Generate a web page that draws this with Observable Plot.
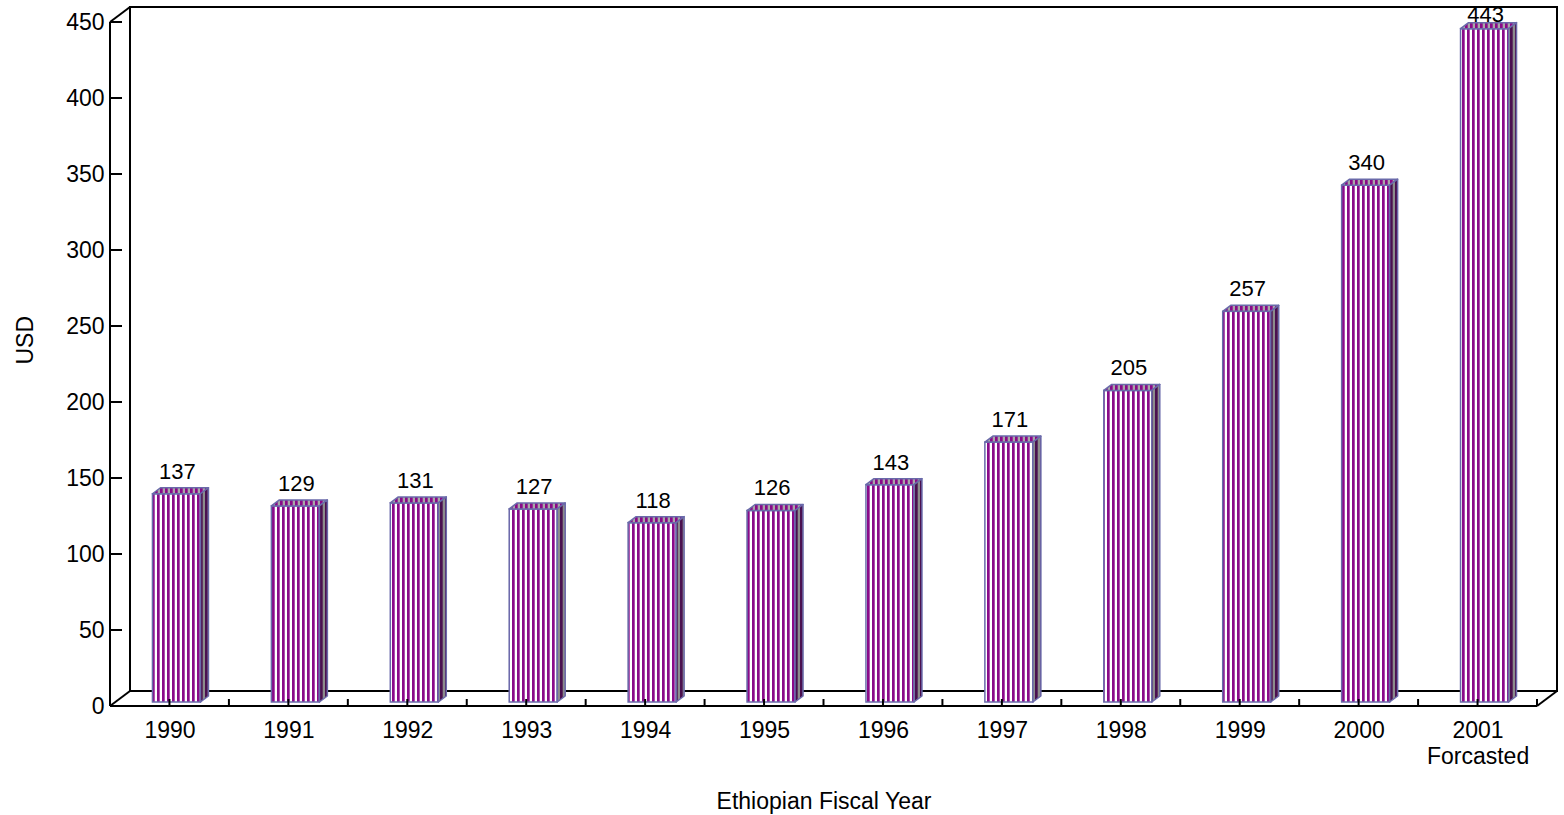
<!DOCTYPE html>
<html>
<head>
<meta charset="utf-8">
<script src="https://cdn.jsdelivr.net/npm/d3@7"></script>
<script src="https://cdn.jsdelivr.net/npm/@observablehq/plot@0.6"></script>
<style>
  html, body { margin: 0; padding: 0; background: #fff; }
</style>
</head>
<body>
<div id="chart"></div>
<script>
const years = ["1990","1991","1992","1993","1994","1995","1996","1997","1998","1999","2000","2001"];
const values = [137, 129, 131, 127, 118, 126, 143, 171, 205, 257, 340, 443];
const yTicks = [0, 50, 100, 150, 200, 250, 300, 350, 400, 450];
const xTickLabels = ["1990","1991","1992","1993","1994","1995","1996","1997","1998","1999","2000","2001\nForcasted"];
const yTitle = "USD";
const xTitle = "Ethiopian Fiscal Year";

const data = years.map((year, i) => ({year, value: values[i], label: xTickLabels[i]}));

const W = 1564, H = 815;
const M = {left: 110, right: 27, top: 22, bottom: 109};
const DEPTH = {dx: 20, dy: -15};       // wall depth
const BAR = {dx: 7, dy: -4, w: 48, ddx: 8, ddy: -6}; // bar placement and thickness
const OUTLINE = "#6a6aaa";
const FONT = "'Liberation Sans', Arial, Helvetica, sans-serif";
const FS = 23;

function bw(scales, dims) {
  return scales.x.bandwidth ? scales.x.bandwidth() : (dims.width - dims.marginLeft - dims.marginRight) / years.length;
}

// 3D frame: back wall, floor, front axis line, ticks
function frameMark(index, scales, values_, dims) {
  const g = d3.create("svg:g").attr("fill", "none").attr("stroke", "black").attr("stroke-width", 2);
  const x0 = dims.marginLeft, x1 = dims.width - dims.marginRight;
  const yT = scales.y(yTicks[yTicks.length - 1]), yB = scales.y(0);
  const line = (a, b, c, d) => g.append("line").attr("x1", a).attr("y1", b).attr("x2", c).attr("y2", d);
  g.append("rect").attr("x", x0 + DEPTH.dx).attr("y", yT + DEPTH.dy)
    .attr("width", x1 - x0).attr("height", yB - yT);
  line(x0, yT, x0 + DEPTH.dx, yT + DEPTH.dy);
  line(x0, yB, x0 + DEPTH.dx, yB + DEPTH.dy);
  line(x1, yB, x1 + DEPTH.dx, yB + DEPTH.dy);
  line(x0, yT, x0, yB);
  line(x0, yB, x1, yB);
  for (const t of yTicks) line(x0, scales.y(t), x0 + 12, scales.y(t));
  return g.node();
}

function xTickMark(index, scales, values_, dims) {
  const g = d3.create("svg:g").attr("stroke", "black").attr("stroke-width", 2);
  const b = bw(scales, dims);
  const yB = scales.y(0);
  const xs = [];
  years.forEach(y => { xs.push(scales.x(y)); xs.push(scales.x(y) + b / 2); });
  xs.push(scales.x(years[years.length - 1]) + b);
  for (const x of xs) g.append("line").attr("x1", x).attr("x2", x).attr("y1", yB - 7).attr("y2", yB);
  return g.node();
}

// top and side faces of the bars, plus value labels
function barFaces(index, scales, values_, dims) {
  const g = d3.create("svg:g");
  const b = bw(scales, dims);
  const yT = scales.y(yTicks[yTicks.length - 1]);
  for (const d of data) {
    const xl = scales.x(d.year) + (b - BAR.w) / 2 + BAR.dx;
    const xr = xl + BAR.w;
    const yt = scales.y(d.value) + BAR.dy;
    const yb = scales.y(0) + BAR.dy;
    g.append("polygon")
      .attr("points", [[xl, yt], [xr, yt], [xr + BAR.ddx, yt + BAR.ddy], [xl + BAR.ddx, yt + BAR.ddy]].join(" "))
      .attr("fill", "url(#topStripes)").attr("stroke", OUTLINE).attr("stroke-width", 1.5).attr("stroke-linejoin", "round");
    g.append("polygon")
      .attr("points", [[xr, yt], [xr + BAR.ddx, yt + BAR.ddy], [xr + BAR.ddx, yb + BAR.ddy], [xr, yb]].join(" "))
      .attr("fill", "url(#sideStripes)").attr("stroke", OUTLINE).attr("stroke-width", 1.5).attr("stroke-linejoin", "round");
    g.append("text")
      .attr("x", (xl + xr) / 2 + 1)
      .attr("y", Math.max(scales.y(d.value) - 19, yT))
      .attr("text-anchor", "middle")
      .attr("font-size", 22)
      .attr("font-family", FONT)
      .attr("fill", "black")
      .text(d.value);
  }
  return g.node();
}

const chart = Plot.plot({
  width: W, height: H,
  marginLeft: M.left, marginRight: M.right, marginTop: M.top, marginBottom: M.bottom,
  style: {fontFamily: FONT, fontSize: FS + "px", background: "white", color: "black", overflow: "visible"},
  x: {domain: years, padding: 0, round: false, label: null},
  y: {domain: [0, 450], label: null},
  marks: [
    frameMark,
    Plot.barY(data, {
      x: "year", y: "value", dx: BAR.dx, dy: BAR.dy,
      insetLeft: (118.92 - BAR.w) / 2, insetRight: (118.92 - BAR.w) / 2,
      fill: "url(#frontStripes)", stroke: OUTLINE, strokeWidth: 1.5
    }),
    barFaces,
    xTickMark,
    Plot.axisY({ticks: yTicks, tickSize: 0, tickPadding: 6, fontSize: FS, label: null, fill: "black"}),
    Plot.axisX({tickSize: 0, tickPadding: 13, fontSize: FS, lineHeight: 1.13, label: null,
      tickFormat: (d) => xTickLabels[years.indexOf(d)], fill: "black"}),
    Plot.text([yTitle], {frameAnchor: "left", rotate: -90, dx: -85, fontSize: FS, fill: "black"}),
    Plot.text([xTitle], {frameAnchor: "bottom", lineAnchor: "bottom", dy: 102, fontSize: FS, fill: "black"})
  ]
});

const defs = d3.select(chart).insert("defs", ":first-child");
defs.html(`
  <pattern id="frontStripes" patternUnits="userSpaceOnUse" width="5" height="10">
    <rect width="5" height="10" fill="#ffffff"/>
    <rect x="0" width="2.7" height="10" fill="#8a0a8a"/>
  </pattern>
  <pattern id="sideStripes" patternUnits="userSpaceOnUse" width="5" height="10">
    <rect width="5" height="10" fill="#8c8c8c"/>
    <rect x="0" width="2.7" height="10" fill="#4a1050"/>
  </pattern>
  <pattern id="topStripes" patternUnits="userSpaceOnUse" width="5" height="10">
    <rect width="5" height="10" fill="#a8a8a8"/>
    <rect x="0" width="2.7" height="10" fill="#8a0a8a"/>
  </pattern>
`);

document.getElementById("chart").appendChild(chart);
</script>
</body>
</html>
